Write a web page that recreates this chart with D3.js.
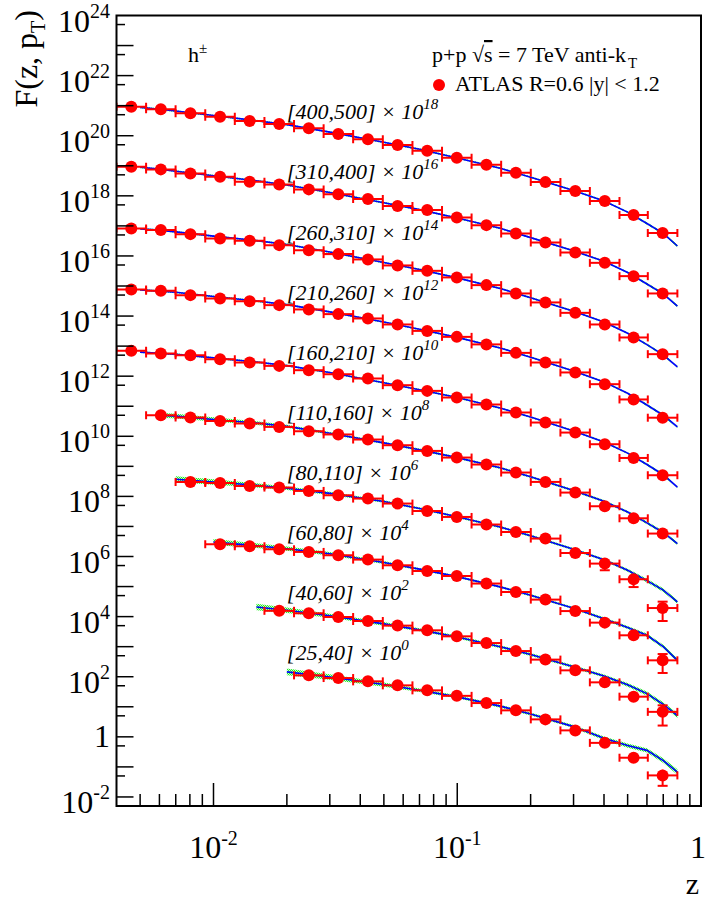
<!DOCTYPE html>
<html><head><meta charset="utf-8">
<script src="https://cdn.jsdelivr.net/npm/d3@7"></script>
<style>
body{margin:0;background:#fff}
svg{display:block}
text{font-family:"Liberation Serif","Times New Roman",serif;fill:#000}
</style>
</head><body>
<svg id="chart" width="707" height="902"></svg>
<script>
// ---------------- data ----------------
const zCenters = [0.0046, 0.00608, 0.00804, 0.01064, 0.01407, 0.0186, 0.0246, 0.0325, 0.0430, 0.0569, 0.0753, 0.0996, 0.1317, 0.174, 0.230, 0.305, 0.403, 0.529, 0.696];
const zEdges = [0.004, 0.00529, 0.00699, 0.00925, 0.01223, 0.01618, 0.0214, 0.0283, 0.0374, 0.0495, 0.0655, 0.0866, 0.1145, 0.1514, 0.2003, 0.265, 0.350, 0.463, 0.605, 0.8];

const ptBins = ["[400,500]", "[310,400]", "[260,310]", "[210,260]", "[160,210]", "[110,160]", "[80,110]", "[60,80]", "[40,60]", "[25,40]"];
const scaleExp = [18, 16, 14, 12, 10, 8, 6, 4, 2, 0];

// ATLAS F(z,pT) (unscaled)
const f_400_500 = [920, 755, 555, 428, 308, 244, 176, 114, 75.7, 48.9, 31.6, 18.5, 10.8, 5.85, 2.86, 1.44, 0.668, 0.229, 0.0575];
const f_310_400 = [927, 759, 558, 431, 293, 240, 164, 112, 77.9, 45.5, 33.5, 19.1, 10.6, 5.62, 2.82, 1.31, 0.590, 0.213, 0.0565];
const f_260_310 = [824, 724, 532, 383, 318, 229, 156, 115, 76.6, 48.3, 32.0, 19.3, 10.7, 5.65, 2.84, 1.28, 0.525, 0.194, 0.054];
const f_210_260 = [768, 690, 497, 385, 313, 231, 166, 116, 83.2, 52.5, 32.1, 20.3, 11.4, 5.96, 2.85, 1.33, 0.541, 0.168, 0.0415];
const f_160_210 = [695, 569, 499, 367, 285, 220, 158, 116, 83.7, 50.1, 32.4, 19.5, 11.4, 6.18, 2.87, 1.33, 0.544, 0.190, 0.0506];
const f_110_160 = [null, 502, 421, 325, 266, 205, 147, 115, 78.0, 50.4, 32.6, 19.6, 11.5, 6.22, 3.03, 1.34, 0.470, 0.187, 0.058];
const f_80_110  = [null, null, 303, 280, 223, 197, 152, 109, 84.7, 57.8, 32.7, 20.7, 11.6, 6.55, 3.95, 1.31, 0.581, 0.175, 0.0193];
const f_60_80   = [null, null, null, 255, 219, 174, 142, 110, 78.9, 51.0, 33.0, 22.5, 12.6, 6.59, 3.68, 1.53, 0.631, 0.239, 0.0351];
const f_40_60   = [null, null, null, null, null, 156, 129, 97.0, 71.4, 50.2, 35.0, 22.1, 13.2, 7.16, 3.71, 1.63, 0.650, 0.217, 0.0678];
const f_25_40   = [null, null, null, null, null, null, 111, 90.4, 70.2, 51.6, 35.2, 23.1, 13.3, 7.60, 3.81, 1.64, 0.630, 0.202, 0.0521];

// relative uncertainties of the data
const e_400_500 = [0.05,0.05,0.05,0.05,0.05,0.05,0.05,0.05,0.05,0.05,0.05,0.05,0.05,0.05,0.05,0.06,0.08,0.10,0.15];
const e_310_400 = [0.05,0.05,0.05,0.05,0.05,0.05,0.05,0.05,0.05,0.05,0.05,0.05,0.05,0.05,0.05,0.06,0.08,0.10,0.15];
const e_260_310 = [0.05,0.05,0.05,0.05,0.05,0.05,0.05,0.05,0.05,0.05,0.05,0.05,0.05,0.05,0.05,0.06,0.08,0.10,0.15];
const e_210_260 = [0.05,0.05,0.05,0.05,0.05,0.05,0.05,0.05,0.05,0.05,0.05,0.05,0.05,0.05,0.05,0.06,0.08,0.10,0.18];
const e_160_210 = [0.05,0.05,0.05,0.05,0.05,0.05,0.05,0.05,0.05,0.05,0.05,0.05,0.05,0.05,0.05,0.06,0.08,0.12,0.20];
const e_110_160 = [null,0.05,0.05,0.05,0.05,0.05,0.05,0.05,0.05,0.05,0.05,0.05,0.05,0.05,0.06,0.08,0.10,0.15,0.25];
const e_80_110  = [null,null,0.05,0.05,0.05,0.05,0.05,0.05,0.05,0.05,0.05,0.05,0.05,0.06,0.08,0.10,0.40,0.45,0.63];
const e_60_80   = [null,null,null,0.05,0.05,0.05,0.05,0.05,0.05,0.05,0.05,0.05,0.05,0.06,0.08,0.10,0.15,0.25,0.62];
const e_40_60   = [null,null,null,null,null,0.05,0.05,0.05,0.05,0.05,0.05,0.05,0.06,0.06,0.08,0.10,0.15,0.25,0.65];
const e_25_40   = [null,null,null,null,null,null,0.05,0.05,0.05,0.05,0.05,0.06,0.06,0.06,0.08,0.10,0.15,0.25,0.55];

// theory curves (unscaled) on a common z grid
const thZ = [0.005, 0.006, 0.007, 0.01, 0.015, 0.02, 0.03, 0.05, 0.07, 0.1, 0.15, 0.2, 0.3, 0.4, 0.5, 0.6, 0.7, 0.8];
const t_400_500 = [879, 759, 661, 468, 316, 234, 132, 60.3, 35.5, 18.2, 8.32, 4.17, 1.51, 0.676, 0.288, 0.120, 0.0562, 0.0214];
const t_310_400 = [891, 776, 661, 468, 316, 229, 129, 58.9, 34.7, 18.2, 8.32, 4.07, 1.48, 0.661, 0.282, 0.117, 0.0550, 0.0214];
const t_260_310 = [794, 724, 631, 457, 324, 240, 135, 60.3, 35.5, 18.6, 8.32, 4.07, 1.45, 0.631, 0.269, 0.112, 0.0513, 0.0204];
const t_210_260 = [741, 676, 617, 447, 316, 240, 138, 63.1, 36.3, 19.5, 8.71, 4.27, 1.48, 0.646, 0.269, 0.110, 0.0501, 0.0204];
const t_160_210 = [631, 575, 537, 407, 295, 224, 132, 60.3, 35.5, 19.5, 8.71, 4.37, 1.51, 0.646, 0.275, 0.115, 0.0525, 0.0204];
const t_110_160 = [null, 501, 468, 363, 275, 214, 126, 60.3, 35.5, 19.5, 8.91, 4.47, 1.58, 0.692, 0.302, 0.132, 0.0631, 0.0269];
const t_80_110  = [null, null, 372, 302, 234, 186, 126, 67.6, 39.8, 20.9, 9.55, 4.90, 1.74, 0.776, 0.347, 0.158, 0.0759, 0.0309];
const t_60_80   = [null, null, null, 302, 229, 182, 123, 63.1, 38.0, 21.4, 9.77, 5.13, 1.91, 0.851, 0.437, 0.240, 0.100, 0.0351];
const t_40_60   = [null, null, null, null, 209, 162, 107, 57.5, 36.3, 20.9, 10.0, 5.50, 2.14, 1.05, 0.537, 0.275, 0.120, 0.0513];
const t_25_40   = [null, null, null, null, null, 145, 97.7, 55.0, 35.5, 21.4, 10.5, 5.75, 2.19, 0.891, 0.513, 0.355, 0.162, 0.0676];

// theory uncertainty band half-width (decades)
const bandHiPt  = [0.03,0.03,0.03,0.03,0.03,0.03,0.03,0.03,0.03,0.03,0.03,0.03,0.03,0.03,0.03,0.04,0.04,0.04];
const b_110_160 = [null,0.08,0.08,0.07,0.06,0.05,0.04,0.04,0.04,0.04,0.04,0.04,0.04,0.04,0.04,0.05,0.05,0.05];
const b_80_110  = [null,null,0.10,0.09,0.07,0.06,0.05,0.04,0.04,0.04,0.04,0.04,0.04,0.04,0.05,0.06,0.06,0.06];
const b_60_80   = [null,null,null,0.10,0.08,0.07,0.06,0.05,0.04,0.04,0.04,0.04,0.04,0.05,0.05,0.06,0.06,0.07];
const b_40_60   = [null,null,null,null,0.11,0.09,0.07,0.06,0.05,0.05,0.05,0.05,0.05,0.05,0.06,0.07,0.07,0.08];
const b_25_40   = [null,null,null,null,null,0.11,0.09,0.07,0.06,0.05,0.05,0.05,0.05,0.06,0.07,0.07,0.08,0.09];

const yTickExps = [24, 22, 20, 18, 16, 14, 12, 10, 8, 6, 4, 2, 0, -2];
const xTickValues = [0.01, 0.1, 1];
const xTickExps = ["-2", "-1", null];

const dataArr = [f_400_500, f_310_400, f_260_310, f_210_260, f_160_210, f_110_160, f_80_110, f_60_80, f_40_60, f_25_40];
const errArr  = [e_400_500, e_310_400, e_260_310, e_210_260, e_160_210, e_110_160, e_80_110, e_60_80, e_40_60, e_25_40];
const thArr   = [t_400_500, t_310_400, t_260_310, t_210_260, t_160_210, t_110_160, t_80_110, t_60_80, t_40_60, t_25_40];
const bandArr = [bandHiPt, bandHiPt, bandHiPt, bandHiPt, bandHiPt, b_110_160, b_80_110, b_60_80, b_40_60, b_25_40];

// ---------------- layout ----------------
const L = 116.5, R = 701, T = 15.5, B = 806;
const svg = d3.select("#chart");
const x = d3.scaleLog().domain([0.004, 1]).range([L, R]);
const y = d3.scaleLog().domain([0.005, 1e24]).range([B, T]);

const defs = svg.append("defs");
defs.append("clipPath").attr("id", "frameClip").append("rect")
  .attr("x", L).attr("y", T).attr("width", R - L).attr("height", B - T);
const pat = defs.append("pattern").attr("id", "greenHatch")
  .attr("width", 2).attr("height", 2).attr("patternUnits", "userSpaceOnUse");
pat.append("rect").attr("width", 2).attr("height", 2).attr("fill", "#c8ffc8");
pat.append("rect").attr("x", 0).attr("y", 0).attr("width", 1).attr("height", 1).attr("fill", "#22ee22");
pat.append("rect").attr("x", 1).attr("y", 1).attr("width", 1).attr("height", 1).attr("fill", "#22ee22");

const plot = svg.append("g").attr("clip-path", "url(#frameClip)");

// ---------------- series ----------------
ptBins.forEach((bin, s) => {
  const k = Math.pow(10, scaleExp[s]);
  const th = thArr[s], bw = bandArr[s];
  const thPts = thZ.map((z, i) => ({z, v: th[i], b: bw[i]})).filter(d => d.v != null);

  const area = d3.area()
    .x(d => x(d.z))
    .y0(d => y(d.v * k * Math.pow(10, -d.b)))
    .y1(d => y(d.v * k * Math.pow(10, d.b)));
  plot.append("path").datum(thPts).attr("d", area)
    .attr("fill", "url(#greenHatch)").attr("stroke", "none");

  const line = d3.line().x(d => x(d.z)).y(d => y(d.v * k));
  plot.append("path").datum(thPts).attr("d", line)
    .attr("fill", "none").attr("stroke", "#0000ff").attr("stroke-width", 1.6);

  const pts = zCenters.map((z, i) => ({z, i, v: dataArr[s][i], e: errArr[s][i]})).filter(d => d.v != null);
  const g = plot.append("g").attr("stroke", "#ff0000").attr("stroke-width", 2).attr("fill", "none");
  pts.forEach(d => {
    const cy = y(d.v * k);
    const x0 = x(zEdges[d.i]), x1 = x(zEdges[d.i + 1]);
    g.append("line").attr("x1", x0).attr("x2", x1).attr("y1", cy).attr("y2", cy);
    g.append("line").attr("x1", x0).attr("x2", x0).attr("y1", cy - 4).attr("y2", cy + 4);
    g.append("line").attr("x1", x1).attr("x2", x1).attr("y1", cy - 4).attr("y2", cy + 4);
    const yHi = y(d.v * k * (1 + d.e)), yLo = y(d.v * k * (1 - d.e));
    const cx = x(d.z);
    g.append("line").attr("x1", cx).attr("x2", cx).attr("y1", yHi).attr("y2", yLo);
    if (cy - yHi > 6) g.append("line").attr("x1", cx - 5).attr("x2", cx + 5).attr("y1", yHi).attr("y2", yHi);
    if (yLo - cy > 6) g.append("line").attr("x1", cx - 5).attr("x2", cx + 5).attr("y1", yLo).attr("y2", yLo);
  });
  plot.append("g").selectAll("circle").data(pts).join("circle")
    .attr("cx", d => x(d.z)).attr("cy", d => y(d.v * k)).attr("r", 6)
    .attr("fill", "#ff0000");

  // series label
  const lab = svg.append("text").attr("x", x(0.02)).attr("y", y(350 * k))
    .attr("font-size", 22).attr("font-style", "italic");
  lab.append("tspan").text(bin + " \u00d7 10");
  lab.append("tspan").attr("dy", -10).attr("font-size", 15).text(scaleExp[s]);
});

// ---------------- frame & axes ----------------
const ax = svg.append("g").attr("stroke", "#000");
for (let e = -2; e <= 23; e++) {
  const yy = y(Math.pow(10, e));
  ax.append("line").attr("x1", L).attr("x2", L + 17).attr("y1", yy).attr("y2", yy).attr("stroke-width", 1.5);
  const y5 = y(5 * Math.pow(10, e));
  if (y5 > T) ax.append("line").attr("x1", L).attr("x2", L + 8.5).attr("y1", y5).attr("y2", y5).attr("stroke-width", 1.5);
}
x.ticks(30).forEach(v => {
  const major = xTickValues.some(t => Math.abs(t - v) / t < 1e-6);
  const xx = x(v);
  if (xx < L + 1 || xx > R - 0.5) return;
  ax.append("line").attr("x1", xx).attr("x2", xx).attr("y1", B).attr("y2", B - (major ? 23 : 12)).attr("stroke-width", 1.5);
});
svg.append("rect").attr("x", L).attr("y", T).attr("width", R - L).attr("height", B - T)
  .attr("fill", "none").attr("stroke", "#000").attr("stroke-width", 2);

// y labels
yTickExps.forEach(e => {
  const yy = y(Math.pow(10, e));
  if (e === 0) {
    svg.append("text").attr("x", 110).attr("y", yy + 10).attr("text-anchor", "end")
      .attr("font-size", 32).text("1");
  } else {
    const t = svg.append("text").attr("x", 110).attr("y", yy + 16).attr("text-anchor", "end").attr("font-size", 32);
    t.append("tspan").text("10");
    t.append("tspan").attr("dy", -14).attr("font-size", 20).text(e);
  }
});
// x labels
xTickValues.forEach((v, i) => {
  if (xTickExps[i] === null) {
    svg.append("text").attr("x", 706).attr("y", 858).attr("text-anchor", "end").attr("font-size", 32).text("1");
    return;
  }
  const t = svg.append("text").attr("x", x(v)).attr("y", 858).attr("text-anchor", "middle").attr("font-size", 32);
  t.append("tspan").text("10");
  t.append("tspan").attr("dy", -13).attr("font-size", 20).text(xTickExps[i]);
});

// axis titles
svg.append("text").attr("x", 699).attr("y", 894).attr("text-anchor", "end").attr("font-size", 30).text("z");
const yt = svg.append("text").attr("transform", "translate(37,10) rotate(-90)")
  .attr("text-anchor", "end").attr("font-size", 32);
yt.append("tspan").text("F(z, p");
yt.append("tspan").attr("dy", 8).attr("font-size", 20).text("T");
yt.append("tspan").attr("dy", -8).text(")");

// h± label
const h = svg.append("text").attr("x", 188).attr("y", 62).attr("font-size", 22);
h.append("tspan").text("h");
h.append("tspan").attr("dy", -9).attr("font-size", 15).text("\u00b1");

// legend
const l1 = svg.append("text").attr("x", 432).attr("y", 62).attr("font-size", 22);
l1.append("tspan").text("p+p \u221a");
l1.append("tspan").attr("text-decoration", "overline").text("s");
l1.append("tspan").text(" = 7 TeV anti-k");
l1.append("tspan").attr("dy", 6).attr("dx", 2).attr("font-size", 15).text("T");
svg.append("circle").attr("cx", 439).attr("cy", 85).attr("r", 6).attr("fill", "#ff0000");
svg.append("text").attr("x", 455).attr("y", 91).attr("font-size", 22).text("ATLAS R=0.6 |y| < 1.2");
</script>
</body></html>
